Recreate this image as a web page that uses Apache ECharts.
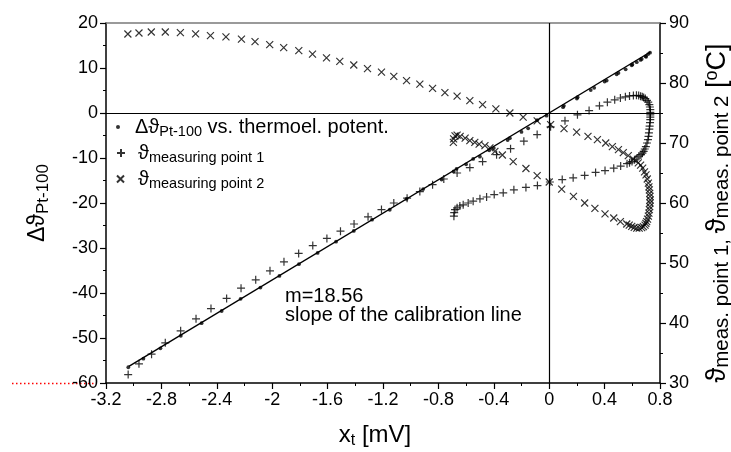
<!DOCTYPE html>
<html><head><meta charset="utf-8">
<script src="https://cdn.jsdelivr.net/npm/echarts@6.0.0/dist/echarts.min.js"></script>
<style>html,body{margin:0;padding:0;background:#fff}#c{width:731px;height:452px}</style>
</head><body><div id="c"></div>
<script>
// Δϑ Pt-100 vs thermoelectric potential (left axis)
const deltaPts = [[-3.039,-56.5],[-2.93,-54.6],[-2.807,-52.3],[-2.66,-49.5],[-2.51,-46.7],[-2.365,-44.0],[-2.228,-41.3],[-2.085,-38.8],[-1.948,-36.2],[-1.807,-33.6],[-1.672,-31.1],[-1.539,-28.6],[-1.411,-26.2],[-1.279,-23.7],[-1.151,-21.5],[-1.03,-19.1],[-0.91,-16.9],[-0.777,-14.8],[-0.669,-12.4],[-0.549,-10.2],[-0.433,-8.3],[-0.284,-5.6],[-0.152,-3.4],[-0.019,-0.6],[0.106,1.6],[0.205,3.5],[0.325,5.6],[0.415,7.2],[0.487,8.6],[0.552,9.7],[0.596,10.6],[0.632,11.3],[0.668,12.0],[0.696,12.6],[0.715,13.1],[0.728,13.4],
  [0.7,12.5],[0.66,11.8],[0.6,10.8],[0.5,8.9],[0.4,7.0],[0.3,5.1],[0.2,3.2],[0.1,1.3],[-0.087,-1.6],[-0.2,-4.2],[-0.3,-6.0],[-0.4,-7.8],[-0.5,-9.7],[-0.6,-11.4],[-0.69,-13.0]];
// calibration line end points (slope m = 18.56)
const fitLine = [[-3.035,-56.3],[0.73,13.55]];
// ϑ measuring point 1 (right axis)
const point1Pts = [[-3.04,31.4],[-2.962,33.2],[-2.871,34.8],[-2.772,36.7],[-2.661,38.7],[-2.55,40.7],[-2.442,42.4],[-2.329,44.1],[-2.225,45.8],[-2.119,47.2],[-2.016,48.7],[-1.915,50.2],[-1.809,51.6],[-1.707,52.9],[-1.605,54.1],[-1.507,55.3],[-1.409,56.5],[-1.308,57.7],[-1.211,58.9],[-1.122,60.0],[-1.026,60.8],[-0.934,61.9],[-0.842,63.05],[-0.761,64.0],[-0.665,65.0],[-0.573,65.9],[-0.481,66.9],[-0.38,68.05],[-0.279,69.05],[-0.183,70.3],[-0.087,71.4],[0.01,72.7],[0.114,73.7],[0.204,74.7],[0.288,75.4],[0.363,76.2],[0.42,76.8],[0.473,77.2],[0.514,77.5],[0.55,77.7],[0.58,77.85],[0.608,77.9],
  [0.63,77.95],[0.646,77.9],[0.66,77.8],[0.672,77.7],[0.682,77.6],[0.694,77.4],[0.706,77.1],[0.715,76.8],[0.723,76.4],[0.727,76.0],[0.73,75.55],[0.73,75.1],[0.73,74.7],[0.73,74.3],[0.73,73.9],[0.728,73.4],[0.725,72.8],[0.723,72.3],[0.72,71.7],[0.717,71.1],[0.713,70.55],[0.706,70.0],[0.698,69.4],[0.69,69.0],[0.682,68.6],[0.673,68.3],[0.663,68.05],[0.648,67.8],[0.634,67.5],[0.616,67.2],[0.598,66.9],[0.58,66.7],[0.562,66.55],
  [0.516,66.15],[0.466,65.8],[0.403,65.4],[0.335,65.1],[0.256,64.6],[0.173,64.2],[0.094,63.9],[0.005,63.5],[-0.085,62.9],[-0.168,62.6],[-0.255,62.2],[-0.332,61.7],[-0.397,61.4],[-0.452,61.0],[-0.5,60.7],[-0.549,60.3],[-0.585,60.0],[-0.621,59.7],[-0.645,59.5],[-0.665,59.2],[-0.68,58.9],[-0.686,58.4],[-0.688,57.8]];
// ϑ measuring point 2 (right axis)
const point2Pts = [[-3.042,88.17],[-2.962,88.33],[-2.873,88.5],[-2.772,88.5],[-2.663,88.4],[-2.553,88.2],[-2.446,87.9],[-2.334,87.7],[-2.222,87.3],[-2.124,86.9],[-2.018,86.4],[-1.917,85.9],[-1.808,85.4],[-1.709,84.8],[-1.608,84.2],[-1.512,83.6],[-1.411,83.0],[-1.312,82.4],[-1.211,81.8],[-1.122,81.1],[-1.03,80.4],[-0.934,79.8],[-0.842,79.1],[-0.753,78.4],[-0.665,77.8],[-0.573,77.05],[-0.481,76.4],[-0.385,75.7],[-0.284,75.0],[-0.188,74.3],[-0.087,73.7],[0.01,73.05],[0.107,72.4],[0.198,71.8],[0.28,71.1],[0.348,70.55],[0.408,70.0],[0.456,69.4],[0.5,68.9],[0.535,68.4],[0.571,67.9],[0.607,67.3],[0.643,66.7],
  [0.66,66.3],[0.675,65.8],[0.688,65.2],[0.699,64.7],[0.708,64.0],[0.716,63.3],[0.72,62.7],[0.723,62.2],[0.726,61.6],[0.728,61.1],[0.729,60.5],[0.728,60.0],[0.726,59.4],[0.723,58.9],[0.72,58.3],[0.716,57.8],[0.71,57.3],[0.704,56.9],[0.698,56.6],[0.692,56.3],[0.68,56.05],[0.668,55.9],[0.65,55.8],[0.632,55.8],[0.614,55.95],[0.596,56.1],[0.578,56.3],[0.56,56.5],
  [0.514,56.9],[0.466,57.5],[0.403,58.2],[0.33,59.1],[0.256,60.0],[0.175,61.1],[0.09,62.3],[0.0,63.5],[-0.087,64.55],[-0.168,65.75],[-0.26,66.9],[-0.338,68.0],[-0.392,68.6],[-0.428,69.2],[-0.464,69.55],[-0.506,69.8],[-0.537,70.1],[-0.573,70.4],[-0.607,70.8],[-0.643,71.1],[-0.665,71.3],[-0.68,71.2],[-0.69,70.7],[-0.692,70.1]];

const seriesNames = ['Δϑ Pt-100 vs. thermoel. potent.', 'ϑ measuring point 1', 'ϑ measuring point 2'];
const legendTexts = [
  '{g|}{m|Δϑ}{s|Pt-100}{m| vs. thermoel. potent.}',
  '{g|}{m|ϑ}{s|measuring point 1}',
  '{g|}{m|ϑ}{s|measuring point 2}'
];
const annotation = ['m=18.56', 'slope of the calibration line'];

const FONT = '"Liberation Sans", Arial, "DejaVu Sans", sans-serif';
const PLUS = 'path://M0,5 L10,5 M5,0 L5,10';
const CROSS = 'path://M0,0 L10,10 M10,0 L0,10';

const chart = echarts.init(document.getElementById('c'), null, {renderer: 'canvas'});

const legendRich = {
  m: {fontSize: 20, fontFamily: FONT, color: '#000'},
  s: {fontSize: 14.5, fontFamily: FONT, color: '#000', padding: [10, 0, 0, 0]}
};
function mkLegend(i, top, icon, size, gap) {
  return {
    data: [{name: seriesNames[i], icon: icon}],
    left: 116, top: top, padding: 0,
    itemWidth: size, itemHeight: size,
    selectedMode: false,
    formatter: () => legendTexts[i].replace('{g|}', '{g' + i + '|}'),
    textStyle: {rich: Object.assign({['g' + i]: {width: gap}}, legendRich)}
  };
}

const axisCommon = {
  type: 'value',
  splitLine: {show: false},
  axisLine: {show: true, onZero: false, lineStyle: {color: '#000', width: 1.5}},
  axisTick: {show: true, inside: false, length: 6, lineStyle: {color: '#000', width: 1.2}},
  minorTick: {show: true, splitNumber: 2, length: 3, lineStyle: {color: '#000', width: 1}},
  axisLabel: {color: '#000', fontSize: 18, fontFamily: FONT},
  nameLocation: 'middle'
};

const option = {
  animation: false,
  backgroundColor: '#fff',
  grid: {left: 106, right: 71, top: 23, bottom: 69, containLabel: false, outerBoundsMode: 'none'},
  legend: [
    mkLegend(0, 117, 'circle', 4, 10),
    mkLegend(1, 143, PLUS, 8, 8),
    mkLegend(2, 169, CROSS, 7, 9)
  ],
  xAxis: [
    Object.assign({}, axisCommon, {
      min: -3.2, max: 0.8, interval: 0.4,
      axisLabel: Object.assign({}, axisCommon.axisLabel, {margin: 8}),
      name: '{m|x}{s|t}{m| [mV]}',
      nameGap: 39,
      nameTextStyle: {padding: [0, 16, 0, 0], rich: {
        m: {fontSize: 24, fontFamily: FONT, color: '#000'},
        s: {fontSize: 16, fontFamily: FONT, color: '#000', padding: [11, 0, 0, 0]}
      }}
    }),
    {
      type: 'value', position: 'top', min: -3.2, max: 0.8, interval: 0.4,
      axisLine: {show: true, onZero: false, lineStyle: {color: '#7a7a7a', width: 1.5}},
      axisTick: {show: false}, axisLabel: {show: false}, splitLine: {show: false}
    }
  ],
  yAxis: [
    Object.assign({}, axisCommon, {
      position: 'left', min: -60, max: 20, interval: 10,
      axisLabel: Object.assign({}, axisCommon.axisLabel, {margin: 8}),
      name: '{m|Δϑ}{s|Pt-100}',
      nameRotate: 90, nameGap: 54,
      nameTextStyle: {rich: {
        m: {fontSize: 23, fontFamily: FONT, color: '#000'},
        s: {fontSize: 17, fontFamily: FONT, color: '#000', padding: [11, 0, 0, 0]}
      }}
    }),
    Object.assign({}, axisCommon, {
      position: 'right', min: 30, max: 90, interval: 10,
      axisLabel: Object.assign({}, axisCommon.axisLabel, {margin: 9}),
      name: '{m|ϑ}{s|meas. point 1, }{m|ϑ}{s|meas. point 2}{m| [}{p|o}{m|C]}',
      nameRotate: 90, nameGap: 43,
      nameTextStyle: {padding: [0, 20, 0, 0], rich: {
        m: {fontSize: 27, fontFamily: FONT, color: '#000'},
        s: {fontSize: 20.5, fontFamily: FONT, color: '#000', padding: [8, 0, 0, 0]},
        p: {fontSize: 18, fontFamily: FONT, color: '#000', padding: [0, 0, 12, 0]}
      }}
    })
  ],
  series: [
    {
      name: seriesNames[0], type: 'scatter', yAxisIndex: 0, data: deltaPts,
      symbol: 'circle', symbolSize: 3.8, itemStyle: {color: '#000'}, z: 3
    },
    {
      name: 'calibration line', type: 'line', yAxisIndex: 0, data: fitLine,
      showSymbol: false, lineStyle: {color: '#000', width: 1.4}, z: 2,
      markLine: {
        silent: true, symbol: 'none', label: {show: false},
        lineStyle: {color: '#000', width: 1.2, type: 'solid'},
        data: [{xAxis: 0}, {yAxis: 0}]
      }
    },
    {
      name: seriesNames[1], type: 'scatter', yAxisIndex: 1, data: point1Pts,
      symbol: PLUS, symbolSize: 8,
      itemStyle: {color: 'rgba(0,0,0,0)', borderColor: '#000', borderWidth: 1.2}, z: 4
    },
    {
      name: seriesNames[2], type: 'scatter', yAxisIndex: 1, data: point2Pts,
      symbol: CROSS, symbolSize: 7,
      itemStyle: {color: 'rgba(0,0,0,0)', borderColor: '#000', borderWidth: 1.2}, z: 4
    }
  ],
  graphic: [
    {type: 'text', left: 285, top: 286, style: {text: annotation[0], font: '20px ' + FONT, fill: '#000'}},
    {type: 'text', left: 285, top: 305, style: {text: annotation[1], font: '20px ' + FONT, fill: '#000'}},
    {type: 'line', shape: {x1: 12, y1: 383.5, x2: 96, y2: 383.5}, style: {stroke: '#ff0000', lineWidth: 1.3, lineDash: [1.5, 2.5]}, silent: true}
  ]
};
chart.setOption(option);
</script>
</body></html>
